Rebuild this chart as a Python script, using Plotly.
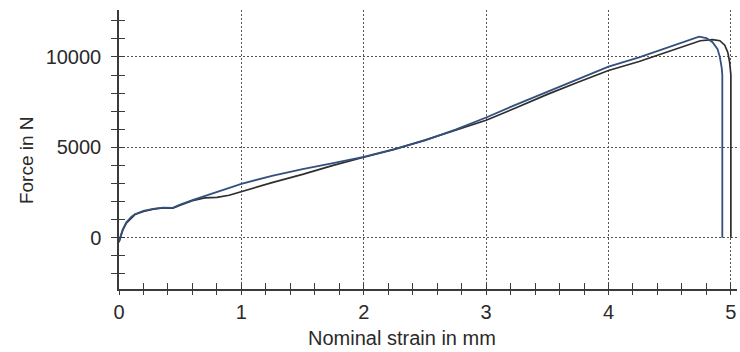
import plotly.graph_objects as go

# Curve 1 (blue)
strain_a = [0, 0.03, 0.06, 0.1, 0.13, 0.2, 0.28, 0.36, 0.44, 0.5, 0.6, 0.7, 0.8, 0.9, 1.0,
            1.25, 1.5, 1.75, 2.0, 2.25, 2.5, 2.75, 3.0, 3.25, 3.5, 3.75, 4.0, 4.25, 4.5,
            4.65, 4.74, 4.8, 4.85, 4.89, 4.91, 4.925, 4.93, 4.93]
force_a = [-200, 450, 850, 1150, 1300, 1480, 1600, 1660, 1650, 1830, 2080, 2300, 2520, 2750, 2980,
           3420, 3800, 4130, 4470, 4900, 5380, 5980, 6650, 7380, 8080, 8790, 9470, 9980, 10560,
           10900, 11130, 11050, 10820, 10450, 10000, 9400, 9000, 0]

# Curve 2 (black)
strain_b = [0, 0.03, 0.06, 0.1, 0.13, 0.2, 0.28, 0.36, 0.44, 0.5, 0.6, 0.7, 0.8, 0.9, 1.0,
            1.25, 1.5, 1.75, 2.0, 2.25, 2.5, 2.75, 3.0, 3.25, 3.5, 3.75, 4.0, 4.25, 4.5,
            4.75, 4.85, 4.91, 4.95, 4.975, 4.99, 5.0, 5.0]
force_b = [-250, 400, 800, 1100, 1280, 1450, 1580, 1650, 1640, 1800, 2050, 2200, 2230, 2350, 2560,
           3050, 3500, 4000, 4450, 4890, 5400, 5930, 6500, 7200, 7930, 8600, 9250, 9750, 10330,
           10900, 10960, 10900, 10650, 10250, 9700, 9000, 0]

x_range = [0, 5.05]
y_range = [-2840, 12600]
x_title = "Nominal strain in mm"
y_title = "Force in N"

FONT = "Arial, Liberation Sans, sans-serif"
TXT = "#2a2a2a"
AX = "#3a3a3a"

fig = go.Figure()
fig.add_trace(go.Scatter(x=strain_b, y=force_b, mode="lines",
                         line=dict(color="#2e2e2e", width=1.7), showlegend=False))
fig.add_trace(go.Scatter(x=strain_a, y=force_a, mode="lines",
                         line=dict(color="#33507f", width=1.8), showlegend=False))
# dummy trace to activate the overlay axes (inner half of crossing ticks)
fig.add_trace(go.Scatter(x=[None], y=[None], xaxis="x2", yaxis="y2", showlegend=False,
                         hoverinfo="skip"))

grid = dict(showgrid=True, gridcolor="#555555", gridwidth=1, griddash="2px,2px")

fig.update_layout(
    width=740, height=352,
    margin=dict(l=119, r=3, t=10, b=63),
    paper_bgcolor="white", plot_bgcolor="white",
    font=dict(family=FONT, color=TXT, size=20),
    xaxis=dict(range=x_range, dtick=1, tick0=0, ticks="outside", ticklen=4, tickwidth=1.2,
               tickcolor=AX, showline=True, linecolor=AX, linewidth=1.5, zeroline=False,
               tickfont=dict(size=20), tickformat="d",
               minor=dict(dtick=0.2, ticks="outside", ticklen=4,
                          tickwidth=1.2, tickcolor=AX, showgrid=False),
               **grid),
    yaxis=dict(range=y_range, dtick=5000, tick0=0, ticks="outside", ticklen=6, tickwidth=1.2,
               tickcolor=AX, showline=True, linecolor=AX, linewidth=1.5, zeroline=False,
               tickfont=dict(size=20), ticklabelstandoff=6, tickformat="d",
               minor=dict(dtick=1000, ticks="outside", ticklen=6, tickwidth=1.2,
                          tickcolor=AX, showgrid=False),
               **grid),
    xaxis2=dict(range=x_range, overlaying="x", anchor="y2", side="bottom", dtick=1, tick0=0,
                ticks="inside", ticklen=6, tickwidth=1.2, tickcolor=AX, showline=False,
                showgrid=False, zeroline=False, showticklabels=False,
                minor=dict(dtick=0.2, ticks="inside", ticklen=6, tickwidth=1.2, tickcolor=AX)),
    yaxis2=dict(range=y_range, overlaying="y", anchor="x2", side="left", dtick=1000, tick0=0,
                ticks="inside", ticklen=6, tickwidth=1.2, tickcolor=AX, showline=False,
                showgrid=False, zeroline=False, showticklabels=False),
    annotations=[
        dict(text=x_title, xref="paper", yref="paper", x=0.458, y=-0.175,
             xanchor="center", yanchor="middle", showarrow=False, font=dict(size=20, color=TXT)),
        dict(text=y_title, xref="paper", yref="paper", x=-0.1505, y=0.462, textangle=-90,
             xanchor="center", yanchor="middle", showarrow=False, font=dict(size=19, color=TXT)),
    ],
)

fig.write_html("out.html")
